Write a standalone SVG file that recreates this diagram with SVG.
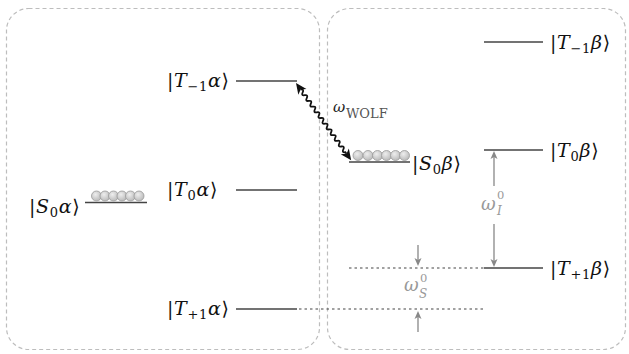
<svg xmlns="http://www.w3.org/2000/svg" width="629" height="354" viewBox="0 0 629 354">
<style>
.box{fill:none;stroke:#bdbdbd;stroke-width:1.2;stroke-dasharray:4 3}
.lvl{stroke:#444;stroke-width:1.5}
.dot{stroke:#444;stroke-width:1.2;stroke-dasharray:2.5 3}
.lab{font-family:"DejaVu Serif","Liberation Serif",serif;font-size:19px;fill:#111;letter-spacing:0.7px}
.it{font-style:italic}
.sub{font-size:13px}
.garr{stroke:#888;stroke-width:1.3;fill:none}
.ghead{fill:#888}
.glab{font-family:"DejaVu Serif","Liberation Serif",serif;font-size:18px;fill:#999;font-style:italic}
.gsup{font-family:"DejaVu Serif","Liberation Serif",serif;font-size:11.5px;fill:#999}
.gsub{font-family:"DejaVu Serif","Liberation Serif",serif;font-size:12px;fill:#999;font-style:italic}
.ball{fill:url(#bg);stroke:#999;stroke-width:0.8}
</style>
<defs>
<radialGradient id="bg" cx="0.4" cy="0.35" r="0.65">
<stop offset="0" stop-color="#eeeeee"/>
<stop offset="1" stop-color="#bbbbbb"/>
</radialGradient>
</defs>

<g id="boxes">
<rect class="box" x="6.5" y="8.5" width="313" height="341" rx="22"/>
<rect class="box" x="327.5" y="8.5" width="298" height="341" rx="22"/>
</g>

<g id="T-1a">
<line class="lvl" x1="236" y1="81" x2="297" y2="81"/>
<text class="lab" x="167" y="87">|<tspan class="it">T</tspan><tspan class="sub" dy="4">−1</tspan><tspan class="it" dy="-4">α</tspan>⟩</text>
</g>
<g id="T0a">
<line class="lvl" x1="236" y1="190" x2="297" y2="190"/>
<text class="lab" x="167" y="196">|<tspan class="it">T</tspan><tspan class="sub" dy="4">0</tspan><tspan class="it" dy="-4">α</tspan>⟩</text>
</g>
<g id="S0a">
<line class="lvl" x1="85" y1="202.5" x2="147" y2="202.5"/>
<g>
<circle class="ball" cx="96.5" cy="196" r="5"/>
<circle class="ball" cx="105" cy="196" r="5"/>
<circle class="ball" cx="113.5" cy="196" r="5"/>
<circle class="ball" cx="122" cy="196" r="5"/>
<circle class="ball" cx="130.5" cy="196" r="5"/>
<circle class="ball" cx="139" cy="196" r="5"/>
</g>
<text class="lab" x="29" y="212.5">|<tspan class="it">S</tspan><tspan class="sub" dy="4">0</tspan><tspan class="it" dy="-4">α</tspan>⟩</text>
</g>
<g id="T+1a">
<line class="lvl" x1="236" y1="309" x2="297" y2="309"/>
<text class="lab" x="167" y="315">|<tspan class="it">T</tspan><tspan class="sub" dy="4">+1</tspan><tspan class="it" dy="-4">α</tspan>⟩</text>
</g>

<g id="T-1b">
<line class="lvl" x1="484" y1="42" x2="543" y2="42"/>
<text class="lab" x="550" y="48.5">|<tspan class="it">T</tspan><tspan class="sub" dy="4">−1</tspan><tspan class="it" dy="-4">β</tspan>⟩</text>
</g>
<g id="T0b">
<line class="lvl" x1="484" y1="150" x2="543" y2="150"/>
<text class="lab" x="550" y="156.5">|<tspan class="it">T</tspan><tspan class="sub" dy="4">0</tspan><tspan class="it" dy="-4">β</tspan>⟩</text>
</g>
<g id="S0b">
<line class="lvl" x1="349" y1="162" x2="410" y2="162"/>
<g>
<circle class="ball" cx="358" cy="155.5" r="5"/>
<circle class="ball" cx="368" cy="155.5" r="5"/>
<circle class="ball" cx="377.5" cy="155.5" r="5"/>
<circle class="ball" cx="386.5" cy="155.5" r="5"/>
<circle class="ball" cx="395.5" cy="155.5" r="5"/>
<circle class="ball" cx="404.5" cy="155.5" r="5"/>
</g>
<text class="lab" x="412" y="170">|<tspan class="it">S</tspan><tspan class="sub" dy="4">0</tspan><tspan class="it" dy="-4">β</tspan>⟩</text>
</g>
<g id="T+1b">
<line class="lvl" x1="484" y1="268" x2="543" y2="268"/>
<text class="lab" x="550" y="274.5">|<tspan class="it">T</tspan><tspan class="sub" dy="4">+1</tspan><tspan class="it" dy="-4">β</tspan>⟩</text>
</g>

<g id="connectors">
<line class="dot" x1="299" y1="309" x2="484" y2="309"/>
<line class="dot" x1="349" y1="268" x2="484" y2="268"/>
<g transform="translate(296,83) rotate(54.5)">
<path d="M8,0 q1.75,-3.4 3.5,0 t3.5,0 t3.5,0 t3.5,0 t3.5,0 t3.5,0 t3.5,0 t3.5,0 t3.5,0 t3.5,0 t3.5,0 t3.5,0 t3.5,0 t3.5,0 t3.5,0 t3.5,0 t3.5,0 t3.5,0 t3.5,0 t3.5,0 t3.5,0 t3.5,0 L87,0" fill="none" stroke="#111" stroke-width="1.8"/>
<path d="M0,0 L11,-5 L8,0 L11,5 Z" fill="#111"/>
<path d="M95,0 L84,-5 L87,0 L84,5 Z" fill="#111"/>
</g>
<text x="333" y="112" font-family="'DejaVu Serif','Liberation Serif',serif" font-size="15" font-style="italic" fill="#222">ω</text>
<text x="346" y="118" font-family="'DejaVu Serif','Liberation Serif',serif" font-size="13" fill="#555">WOLF</text>

<line class="garr" x1="494" y1="154" x2="494" y2="186"/>
<path class="ghead" d="M494,151 L490.5,159 L494,157 L497.5,159 Z"/>
<line class="garr" x1="494" y1="224" x2="494" y2="264"/>
<path class="ghead" d="M494,267 L490.5,259 L494,261 L497.5,259 Z"/>
<text class="glab" x="481" y="210">ω</text>
<text class="gsup" x="497" y="199">0</text>
<text class="gsub" x="497" y="215">I</text>

<line class="garr" x1="418" y1="245" x2="418" y2="263"/>
<path class="ghead" d="M418,266 L414.5,258 L418,260 L421.5,258 Z"/>
<line class="garr" x1="418" y1="314" x2="418" y2="332"/>
<path class="ghead" d="M418,311 L414.5,319 L418,317 L421.5,319 Z"/>
<text class="glab" x="404" y="291">ω</text>
<text class="gsup" x="420" y="282">0</text>
<text class="gsub" x="419" y="298">S</text>
</g>
</svg>
